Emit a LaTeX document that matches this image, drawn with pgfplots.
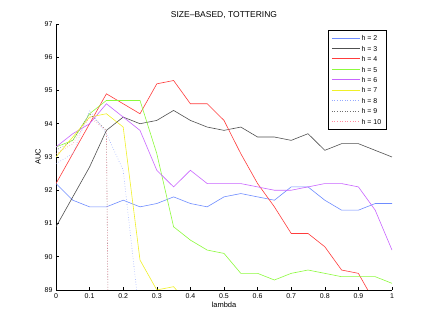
\documentclass[border=0pt]{standalone}
\usepackage{pgfplots}
\pgfplotsset{compat=1.18}
\usepackage{fontspec}
\setmainfont{Liberation Sans}
\definecolor{hblue}{RGB}{110,140,255}
\definecolor{hgray}{RGB}{80,80,80}
\definecolor{hred}{RGB}{255,60,60}
\definecolor{hgreen}{RGB}{140,250,60}
\definecolor{hpurple}{RGB}{200,100,255}
\definecolor{hyellow}{RGB}{240,240,40}
\definecolor{hdblue}{RGB}{150,170,255}
\definecolor{hdgray}{RGB}{110,110,110}
\definecolor{hpink}{RGB}{255,140,160}
\begin{document}
\begin{tikzpicture}[x=1pt,y=1pt]
\path (0,0) rectangle (434,326);
\begin{axis}[at={(56pt,36pt)},anchor=south west,scale only axis,width=336pt,height=266pt,
xmin=0,xmax=1,ymin=89,ymax=97,
axis x line*=bottom,axis y line*=left,axis line style={-,black,line width=0.5pt},
tick align=inside,tick style={black,line width=0.5pt},major tick length=3pt,
xtick={0,0.1,...,1},ytick={89,90,...,97},
xticklabels={0,0.1,0.2,0.3,0.4,0.5,0.6,0.7,0.8,0.9,1},
/pgf/number format/assume math mode=true,
tick label style={font=\fontsize{7}{8}\selectfont},
label style={font=\fontsize{7.5}{8}\selectfont},
title style={font=\fontsize{8.5}{9}\selectfont,yshift=-4pt},
title={SIZE–BASED, TOTTERING},xlabel={lambda},ylabel={AUC},
xlabel style={yshift=3pt},ylabel style={yshift=-3pt},
legend style={font=\fontsize{7}{8}\selectfont,at={(rel axis cs:0.982,0.977)},anchor=north east,inner xsep=3pt,inner ysep=1pt,row sep=-2.6pt,
  nodes={inner sep=1.5pt,text height=1.5ex,text depth=0.4ex}},
legend cell align=left,
legend image code/.code={\draw[#1,line width=0.6pt] (-2pt,0pt) -- (26pt,0pt);},
every axis plot/.append style={line width=0.6pt}]
\addplot[color=hblue,draw=hblue] coordinates {(0,92.2) (0.05,91.7) (0.1,91.5) (0.15,91.5) (0.2,91.7) (0.25,91.5) (0.3,91.6) (0.35,91.8) (0.4,91.6) (0.45,91.5) (0.5,91.8) (0.55,91.9) (0.6,91.8) (0.65,91.7) (0.7,92.1) (0.75,92.1) (0.8,91.7) (0.85,91.4) (0.9,91.4) (0.95,91.6) (1,91.6)};
\addlegendentry{h = 2}
\addplot[color=hgray,draw=hgray] coordinates {(0,90.9) (0.05,91.8) (0.1,92.7) (0.15,93.8) (0.2,94.2) (0.25,94.0) (0.3,94.1) (0.35,94.4) (0.4,94.1) (0.45,93.9) (0.5,93.8) (0.55,93.9) (0.6,93.6) (0.65,93.6) (0.7,93.5) (0.75,93.7) (0.8,93.2) (0.85,93.4) (0.9,93.4) (0.95,93.2) (1,93.0)};
\addlegendentry{h = 3}
\addplot[color=hred,draw=hred] coordinates {(0,92.2) (0.05,93.1) (0.1,94.0) (0.15,94.9) (0.2,94.6) (0.25,94.3) (0.3,95.2) (0.35,95.3) (0.4,94.6) (0.45,94.6) (0.5,94.1) (0.55,93.1) (0.6,92.2) (0.65,91.5) (0.7,90.7) (0.75,90.7) (0.8,90.3) (0.85,89.6) (0.9,89.5) (0.95,88.6) (1,88.3)};
\addlegendentry{h = 4}
\addplot[color=hgreen,draw=hgreen] coordinates {(0,93.3) (0.05,93.5) (0.1,94.3) (0.15,94.7) (0.2,94.7) (0.25,94.7) (0.3,93.1) (0.35,90.9) (0.4,90.5) (0.45,90.2) (0.5,90.1) (0.55,89.5) (0.6,89.5) (0.65,89.3) (0.7,89.5) (0.75,89.6) (0.8,89.5) (0.85,89.4) (0.9,89.4) (0.95,89.4) (1,89.2)};
\addlegendentry{h = 5}
\addplot[color=hpurple,draw=hpurple] coordinates {(0,93.3) (0.05,93.7) (0.1,94.0) (0.15,94.6) (0.2,94.2) (0.25,93.8) (0.3,92.6) (0.35,92.1) (0.4,92.6) (0.45,92.2) (0.5,92.2) (0.55,92.2) (0.6,92.1) (0.65,92.0) (0.7,92.0) (0.75,92.1) (0.8,92.2) (0.85,92.2) (0.9,92.1) (0.95,91.4) (1,90.2)};
\addlegendentry{h = 6}
\addplot[color=hyellow,draw=hyellow] coordinates {(0,93.0) (0.05,93.6) (0.1,94.2) (0.15,94.3) (0.2,93.9) (0.25,89.9) (0.3,89.0) (0.35,89.1) (0.4,88.5)};
\addlegendentry{h = 7}
\addplot[color=hdblue,draw=hdblue,dotted] coordinates {(0,92.8) (0.05,93.1) (0.1,94.4) (0.15,93.7) (0.2,92.6) (0.25,88.1)};
\addlegendentry{h = 8}
\addplot[color=hdgray,draw=hdgray,dotted] coordinates {(0,93.2) (0.05,93.5) (0.1,94.3) (0.15,93.8) (0.2,40)};
\addlegendentry{h = 9}
\addplot[color=hpink,draw=hpink,dotted] coordinates {(0,93.1) (0.05,93.4) (0.1,94.2) (0.15,93.8) (0.2,40)};
\addlegendentry{h = 10}
\end{axis}
\end{tikzpicture}
\end{document}
